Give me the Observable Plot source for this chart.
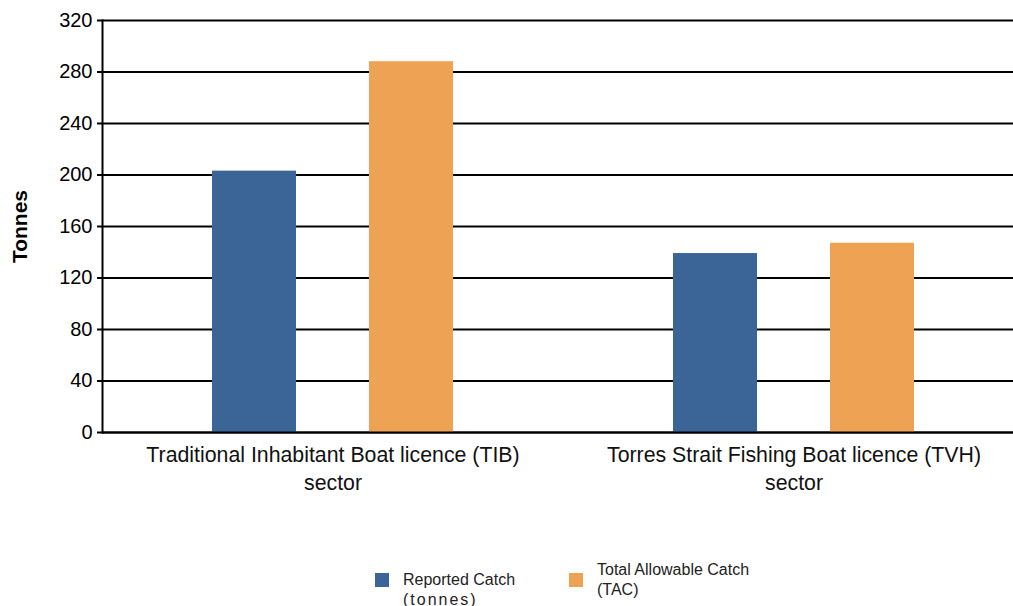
<!DOCTYPE html>
<html><head><meta charset="utf-8">
<script src="https://cdn.jsdelivr.net/npm/d3@7"></script>
<script src="https://cdn.jsdelivr.net/npm/@observablehq/plot@0.6"></script>
<style>
html,body{margin:0;background:#fff;font-family:"Liberation Sans",Arial,sans-serif;overflow:hidden;}
#chart svg [aria-label="y-axis label"] text{font-weight:bold;font-size:21px;}
#legend{position:relative;height:86px;width:1013px;font-size:16px;color:#222;}
.sw{position:absolute;width:14px;height:14px;}
.lt{position:absolute;line-height:20px;white-space:nowrap;}
</style></head><body>
<div id="chart"></div>
<div id="legend"></div>
<script>
const sectors = ["Traditional Inhabitant Boat licence (TIB)\nsector", "Torres Strait Fishing Boat licence (TVH)\nsector"];
const series = ["Reported Catch (tonnes)", "Total Allowable Catch (TAC)"];
const legendLines = [["Reported Catch", "(tonnes)"], ["Total Allowable Catch", "(TAC)"]];
const reported = [203, 139];
const tac = [288, 147];
const yTicks = [0, 40, 80, 120, 160, 200, 240, 280, 320];
const colors = ["#3b6597", "#eea354"];

const data = sectors.flatMap((s, i) => [
  {sector: s, series: series[0], value: reported[i]},
  {sector: s, series: series[1], value: tac[i]}
]);

const chart = Plot.plot({
  width: 1024, height: 520,
  marginLeft: 101, marginRight: 0, marginTop: 20, marginBottom: 88,
  style: {fontFamily: '"Liberation Sans", Arial, sans-serif', fontSize: "20px", color: "#000", background: "#fff", overflow: "visible", maxWidth: "none"},
  fx: {domain: sectors, padding: 0, label: null},
  x: {domain: series, paddingInner: 0.465, paddingOuter: 0.7, axis: null},
  y: {domain: [0, 320], ticks: yTicks, label: "Tonnes"},
  color: {domain: series, range: colors},
  marks: [
    Plot.ruleY(yTicks, {stroke: "#000", strokeWidth: 2}),
    Plot.barY(data, {fx: "sector", x: "series", y: "value", fill: "series"}),
    Plot.ruleY([0], {stroke: "#000", strokeWidth: 2}),
    Plot.frame({anchor: "left", facetAnchor: "left", stroke: "#000", strokeWidth: 2}),
    Plot.axisY({ticks: yTicks, tickSize: 5, tickPadding: 5, fontSize: 20, strokeWidth: 2, label: "Tonnes", labelAnchor: "center", labelOffset: 90, labelArrow: "none"}),
    Plot.axisFx({anchor: "bottom", tickSize: 0, tickPadding: 10, fontSize: 21.3, lineHeight: 1.3, label: null, fill: "#111"})
  ]
});
chart.style.maxWidth = "none";
document.getElementById("chart").appendChild(chart);

const legend = d3.select("#legend");
const lx = [375, 569];
const sy = [53, 53];
const ty = [50, 40];
series.forEach((s, i) => {
  legend.append("div").attr("class", "sw").style("left", lx[i] + "px").style("top", sy[i] + "px").style("background", colors[i]);
  const t = legend.append("div").attr("class", "lt").style("left", (lx[i] + 28) + "px").style("top", ty[i] + "px");
  legendLines[i].forEach((ln, j) => {
    t.append("div").text(ln).style("letter-spacing", (i === 0 && j === 1) ? "2px" : "0px");
  });
});
</script>
</body></html>
